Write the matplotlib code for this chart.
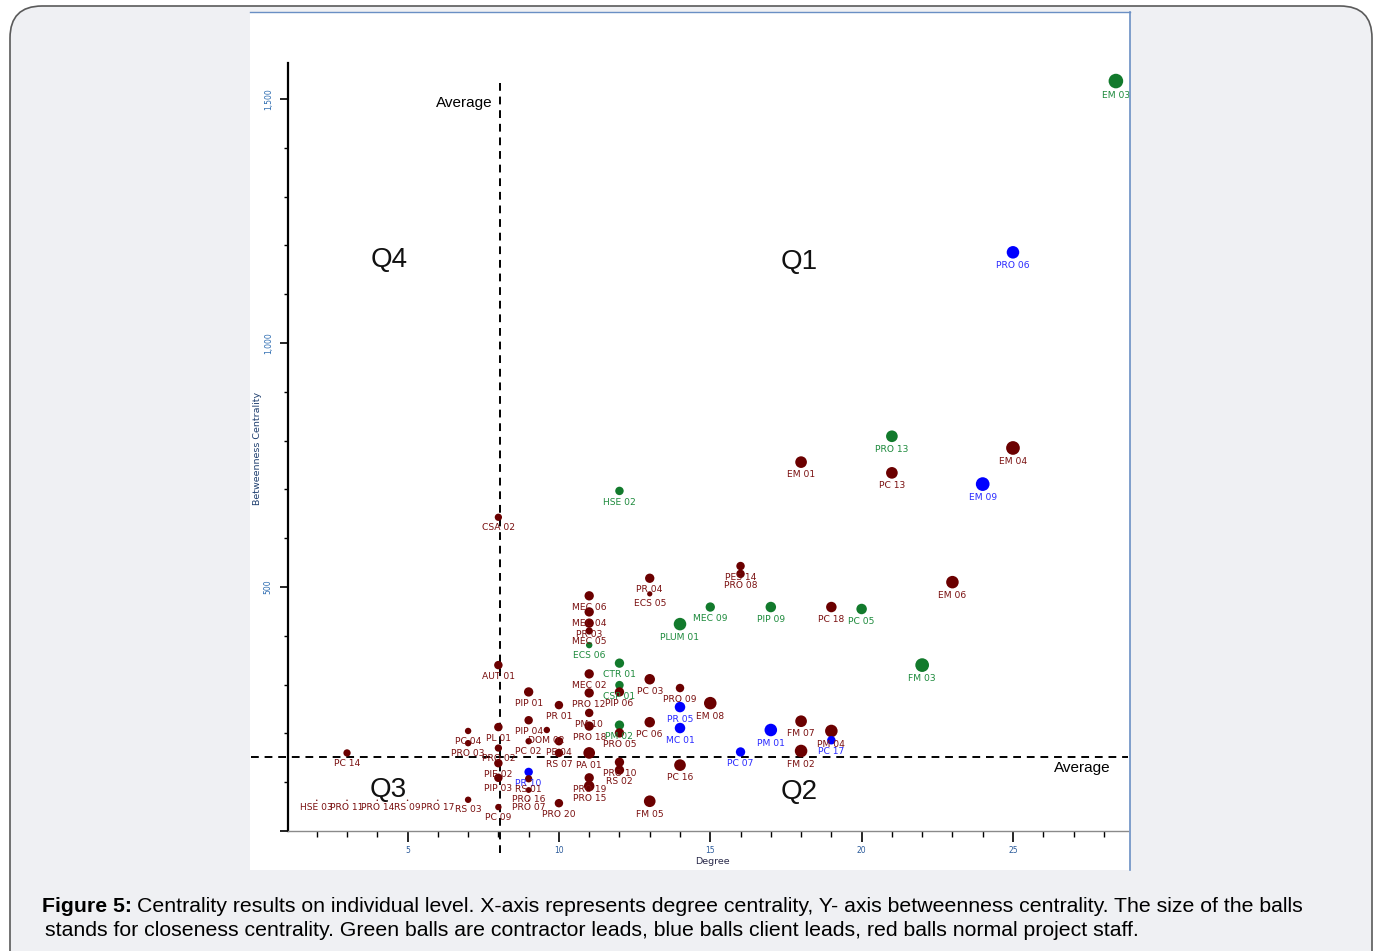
import matplotlib
matplotlib.use("Agg")
import matplotlib.pyplot as plt
from matplotlib.patches import FancyBboxPatch, Rectangle
from matplotlib.ticker import MultipleLocator, FuncFormatter

# label, degree, betweenness, group (c = contractor lead, l = client lead, s = staff), closeness
names = ["EM 03", "PRO 06", "PRO 13", "EM 04", "EM 01", "PC 13", "EM 09", "HSE 02",
         "CSA 02", "PES 14", "PRO 08", "EM 06", "PR 04", "ECS 05", "MEC 06", "MEC 09",
         "PIP 09", "PC 18", "PC 05", "PLUM 01", "MEC 04", "PR 03", "MEC 05", "ECS 06",
         "FM 03", "CTR 01", "AUT 01", "MEC 02", "PC 03", "CSP 01", "PIP 06", "PRO 09",
         "PIP 01", "PRO 12", "PR 01", "EM 08", "PR 05", "PM 10", "PIP 04", "PC 06",
         "PM 02", "MC 01", "PC 04", "PL 01", "PRO 18", "DOM 02", "PRO 05", "PC 02",
         "PE 04", "PRO 03", "RS 07", "PA 01", "PM 01", "FM 07", "PM 04", "PC 17",
         "PC 07", "FM 02", "PC 16", "PRO 10", "RS 02", "PC 14", "PRO 02", "PIE 02",
         "PR 10", "PIP 03", "RS 01", "PRO 19", "PRO 15", "PRO 16", "HSE 03", "PRO 11",
         "PRO 14", "RS 09", "PRO 17", "RS 03", "PC 09", "PRO 07", "PRO 20", "FM 05"]
degree = [28.4, 25, 21, 25, 18, 21, 24, 12,
          8, 16, 16, 23, 13, 13, 11, 15,
          17, 19, 20, 14, 11, 11, 11, 11,
          22, 12, 8, 11, 13, 12, 12, 14,
          9, 11, 10, 15, 14, 11, 9, 13,
          12, 14, 7, 8, 11, 9.6, 12, 9,
          10, 7, 10, 11, 17, 18, 19, 19,
          16, 18, 14, 12, 12, 3, 8, 8,
          9, 8, 9, 11, 11, 9, 2, 3,
          4, 5, 6, 7, 8, 9, 10, 13]
betweenness = [1537, 1186, 809, 785, 756, 734, 711, 697,
               643, 543, 527, 510, 518, 486, 482, 459,
               459, 459, 455, 424, 449, 426, 410, 381,
               340, 344, 340, 322, 311, 299, 285, 293,
               285, 283, 258, 262, 254, 242, 227, 223,
               217, 211, 205, 213, 215, 207, 201, 184,
               184, 180, 160, 160, 207, 225, 205, 186,
               162, 164, 135, 141, 125, 160, 170, 139,
               121, 109, 107, 109, 92, 84, 63, 63,
               63, 63, 63, 64, 49, 63, 57, 61]
group = ["c", "l", "c", "s", "s", "s", "l", "c",
         "s", "s", "s", "s", "s", "s", "s", "c",
         "c", "s", "c", "c", "s", "s", "s", "c",
         "c", "c", "s", "s", "s", "c", "s", "s",
         "s", "s", "s", "s", "l", "s", "s", "s",
         "c", "l", "s", "s", "s", "s", "s", "s",
         "s", "s", "s", "s", "l", "s", "s", "l",
         "l", "s", "s", "s", "s", "s", "s", "s",
         "l", "s", "s", "s", "s", "s", "s", "s",
         "s", "s", "s", "s", "s", "s", "s", "s"]
closeness = [0.50, 0.43, 0.40, 0.47, 0.40, 0.40, 0.47, 0.29,
             0.25, 0.29, 0.29, 0.43, 0.32, 0.18, 0.32, 0.32,
             0.36, 0.36, 0.36, 0.43, 0.32, 0.32, 0.25, 0.22,
             0.47, 0.32, 0.29, 0.32, 0.36, 0.29, 0.32, 0.29,
             0.32, 0.32, 0.29, 0.43, 0.36, 0.29, 0.29, 0.36,
             0.32, 0.36, 0.22, 0.29, 0.32, 0.22, 0.32, 0.22,
             0.29, 0.22, 0.29, 0.40, 0.43, 0.40, 0.43, 0.29,
             0.32, 0.43, 0.40, 0.32, 0.32, 0.25, 0.25, 0.29,
             0.29, 0.29, 0.25, 0.32, 0.36, 0.20, 0.05, 0.05,
             0.05, 0.05, 0.05, 0.22, 0.22, 0.05, 0.29, 0.40]

avg_degree = 8.05
avg_betweenness = 152

ball = {"c": "#127a2c", "l": "#0000ff", "s": "#6b0000"}
text_col = {"c": "#1d8a3c", "l": "#2a2aff", "s": "#7a1010"}

W, H = 1378, 951
fig = plt.figure(figsize=(W / 100, H / 100), dpi=100)
fig.patch.set_facecolor("white")

# card and chart image background (pixel coords)
card = FancyBboxPatch((10, -40), 1362, 945 + 40, boxstyle="round,pad=0,rounding_size=32",
                      transform=None, facecolor="#eff0f3", edgecolor="#5a5a5a",
                      linewidth=1.2, zorder=-10)
fig.patches.append(card)
fig.patches.append(Rectangle((250, 81), 880, 858, transform=None, facecolor="white",
                             edgecolor="none", zorder=-9))
fig.lines.append(plt.Line2D([250, 1130], [939, 939], transform=None, color="#6a8fc4", lw=1))
fig.lines.append(plt.Line2D([1129.5, 1129.5], [81, 939], transform=None, color="#6a8fc4", lw=1.2))

ax = fig.add_axes([288 / W, (H - 831) / H, (1128 - 288) / W, (831 - 63) / H])
ax.set_facecolor("none")
ax.set_xlim(1.05, 28.8)
ax.set_ylim(0, 1574)

for side in ["top", "right"]:
    ax.spines[side].set_visible(False)
ax.spines["left"].set_linewidth(1.6)
ax.spines["left"].set_color("black")
ax.spines["bottom"].set_linewidth(1.0)
ax.spines["bottom"].set_color("#8a8a8a")

ax.xaxis.set_major_locator(MultipleLocator(5))
ax.xaxis.set_minor_locator(MultipleLocator(1))
ax.yaxis.set_major_locator(MultipleLocator(500))
ax.yaxis.set_minor_locator(MultipleLocator(100))
ax.yaxis.set_major_formatter(FuncFormatter(lambda v, _: f"{int(v):,}" if v > 0 else ""))
ax.tick_params(axis="x", which="major", length=8, width=1.2, labelsize=5.5,
               labelcolor="#2a5a9a", pad=3)
ax.tick_params(axis="x", which="minor", length=4, width=1)
ax.tick_params(axis="y", which="major", length=6, width=1.2, labelsize=5.5,
               labelcolor="#2a6ab0", pad=5)
ax.tick_params(axis="y", which="minor", length=3, width=1)
for lab in ax.get_yticklabels():
    lab.set_rotation(90)
    lab.set_va("center")

# average lines
ax.plot([avg_degree, avg_degree], [1533, -49], color="black", lw=1.4,
        linestyle=(0, (4, 3)), clip_on=False, zorder=1)
ax.plot([-0.16, 28.8], [avg_betweenness, avg_betweenness], color="black", lw=1.4,
        linestyle=(0, (4, 3)), clip_on=False, zorder=1)

sizes = [(21 * c) ** 2 for c in closeness]
ax.scatter(degree, betweenness, s=sizes, c=[ball[g] for g in group],
           edgecolors="none", zorder=3, clip_on=False)

for n, x, y, g, c in zip(names, degree, betweenness, group, closeness):
    ax.annotate(n, (x, y), xytext=(0, -(10.5 * c + 5)), textcoords="offset points",
                ha="center", va="center", fontsize=6.6, color=text_col[g],
                family="DejaVu Sans", zorder=4, annotation_clip=False)

qfont = dict(family="Liberation Sans", fontsize=20, color="#111111", ha="center", va="center")
ax.text(4.38, 1170, "Q4", **qfont)
ax.text(17.93, 1166, "Q1", **qfont)
ax.text(4.35, 84, "Q3", **qfont)
ax.text(17.93, 80, "Q2", **qfont)
ax.text(7.8, 1492, "Average", family="Liberation Sans", fontsize=11, ha="right", va="center")
ax.text(26.35, 129, "Average", family="Liberation Sans", fontsize=11, ha="left", va="center")

fig.text(258 / W, 1 - 448 / H, "Betweenness Centrality", rotation=90, ha="center",
         va="center", fontsize=6.8, color="#1f3f6f")
fig.text(712 / W, 1 - 862 / H, "Degree", ha="center", va="center", fontsize=6.8,
         color="#2a2a4a")

# caption
cap_size = 15.3
fig.canvas.draw()
r = fig.canvas.get_renderer()
t1 = fig.text(42 / W, 1 - 907 / H, "Figure 5:", fontweight="bold", family="Liberation Sans",
              fontsize=cap_size, va="center")
bb = t1.get_window_extent(renderer=r)
fig.text((bb.x1 + 5) / W, 1 - 907 / H,
         "Centrality results on individual level. X-axis represents degree centrality, "
         "Y- axis betweenness centrality. The size of the balls",
         family="Liberation Sans", fontsize=cap_size, va="center")
fig.text(45 / W, 1 - 931 / H,
         "stands for closeness centrality. Green balls are contractor leads, blue balls "
         "client leads, red balls normal project staff.",
         family="Liberation Sans", fontsize=cap_size, va="center")

fig.savefig("out.png", dpi=100)
